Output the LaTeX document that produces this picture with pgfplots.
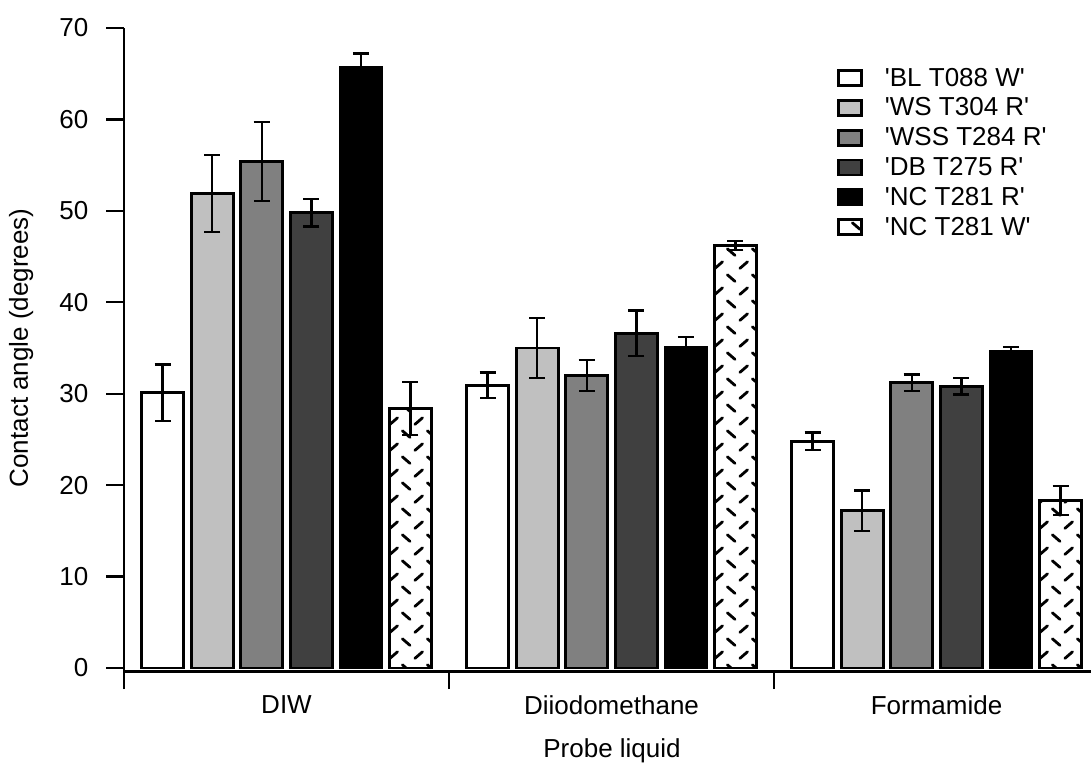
\documentclass[border=0pt]{standalone}
\usepackage{fontspec}
\setmainfont{Liberation Sans}[Ligatures=TeXOff]
\usepackage{pgfplots}
\usepackage{pgfplotstable}
\pgfplotsset{compat=1.18}
\usetikzlibrary{patterns}

\definecolor{wsgray}{HTML}{C0C0C0}
\definecolor{wssgray}{HTML}{808080}
\definecolor{dbgray}{HTML}{404040}
\newcommand\fsz{\fontsize{13}{15.6}\selectfont}
\newcommand\q{\textquotesingle}

\pgfdeclarepatternformonly{zigdash}{\pgfqpoint{-1pt}{-1pt}}{\pgfqpoint{13.5pt}{14pt}}{\pgfqpoint{12.5pt}{13pt}}{%
  \pgfsetlinewidth{1.4pt}\pgfsetroundcap
  \pgfpathmoveto{\pgfqpoint{1.2pt}{11.4pt}}\pgfpathlineto{\pgfqpoint{5.0pt}{8.1pt}}
  \pgfpathmoveto{\pgfqpoint{7.45pt}{1.6pt}}\pgfpathlineto{\pgfqpoint{11.25pt}{4.9pt}}
  \pgfusepath{stroke}}

\pgfplotstableread{
x y e
0.1185 30.1 3.1
1.1185 30.9 1.4
2.1185 24.8 0.95
}\bl
\pgfplotstableread{
x y e
0.2711 51.9 4.2
1.2711 35.0 3.3
2.2711 17.2 2.2
}\ws
\pgfplotstableread{
x y e
0.4237 55.4 4.3
1.4237 32.0 1.7
2.4237 31.2 0.9
}\wss
\pgfplotstableread{
x y e
0.5763 49.8 1.5
1.5763 36.6 2.5
2.5763 30.8 0.9
}\db
\pgfplotstableread{
x y e
0.7289 65.7 1.5
1.7289 35.1 1.1
2.7289 34.6 0.5
}\ncr
\pgfplotstableread{
x y e
0.8815 28.4 2.9
1.8815 46.2 0.5
2.8815 18.3 1.6
}\ncw

\begin{document}
\begin{tikzpicture}
\begin{axis}[
  scale only axis, width=487.5pt, height=321.8pt,
  xmin=0, xmax=3, ymin=-0.4, ymax=70,
  axis x line=bottom, axis y line=left,
  axis line style={-, line width=1.2pt},
  xtick={0,1,2,3}, xticklabels={},
  extra x ticks={0.5,1.5,2.5},
  extra x tick labels={DIW,Diiodomethane,Formamide},
  extra x tick style={major tick length=0pt, tick label style={yshift=-8.5pt}},
  ytick={0,10,...,70},
  tick align=outside, major tick length=8.8pt,
  tick style={line width=1.1pt, black},
  minor tick num=0,
  /pgf/number format/assume math mode=true,
  tick label style={font=\fsz},
  yticklabel style={xshift=-5.5pt},
  label style={font=\fsz},
  xlabel={Probe liquid},
  ylabel={Contact angle (degrees)},
  xlabel style={at={(axis description cs:0.5005,-0.123)}, anchor=center},
  ylabel style={at={(axis description cs:-0.1056,0.503)}, anchor=center},
  ybar, bar width=0.1292, bar shift=0pt,
  every axis plot/.append style={draw=black, line width=1.4pt},
  error bars/y dir=both, error bars/y explicit,
  error bars/error bar style={line width=1.2pt, black, solid},
  error bars/error mark options={rotate=90, mark size=4pt, line width=1.2pt, black},
  legend image code/.code={\draw[#1] (0pt,-3.75pt) rectangle (11.5pt,3.75pt);},
  legend cell align=left,
  legend style={at={(axis cs:2.193,66.1)}, anchor=north west, draw=none, fill=none,
    font=\fsz, inner sep=0pt, row sep=0.9pt, column sep=10pt,
    nodes={inner sep=1pt, text height=10pt, text depth=2pt}},
]
\coordinate (O) at (rel axis cs:0,0);
\addplot[fill=white] table[x=x, y=y, y error=e] {\bl};
\addlegendentry{\q BL T088 W\q}
\addplot[fill=wsgray] table[x=x, y=y, y error=e] {\ws};
\addlegendentry{\q WS T304 R\q}
\addplot[fill=wssgray] table[x=x, y=y, y error=e] {\wss};
\addlegendentry{\q WSS T284 R\q}
\addplot[fill=dbgray] table[x=x, y=y, y error=e] {\db};
\addlegendentry{\q DB T275 R\q}
\addplot[fill=black] table[x=x, y=y, y error=e] {\ncr};
\addlegendentry{\q NC T281 R\q}
\addplot[fill=white, postaction={pattern=zigdash, pattern color=black}] table[x=x, y=y, y error=e] {\ncw};
\addlegendentry{\q NC T281 W\q}
\end{axis}
\pgfresetboundingbox
\path ([shift={(-62pt,-47pt)}]O) rectangle ([shift={(483.5pt,335.8pt)}]O);
\end{tikzpicture}
\end{document}
